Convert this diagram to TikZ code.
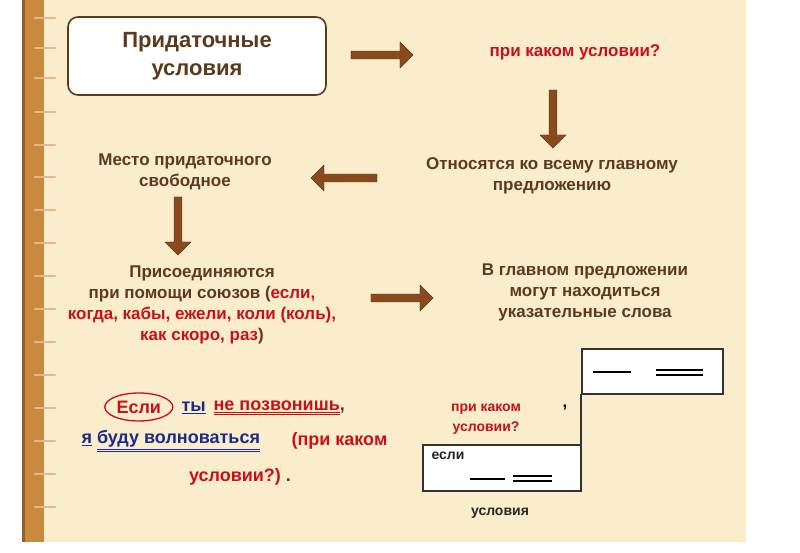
\documentclass[tikz,border=0pt]{standalone}
\usepackage{fontspec}
\setmainfont{Liberation Sans}
\usetikzlibrary{shapes.arrows}
\definecolor{page}{HTML}{FAEDCB}
\definecolor{bind}{HTML}{C98A3E}
\definecolor{brn}{HTML}{5C3A1C}
\definecolor{arr}{HTML}{8B4A1E}
\definecolor{rd}{HTML}{C8101A}
\definecolor{bl}{HTML}{1C2A8C}
\begin{document}
\begin{tikzpicture}[x=1pt,y=-1pt,
  t/.style={font=\bfseries\fontsize{17}{21}\selectfont, text=brn, align=center},
  red/.style={t, text=rd},
  blk/.style={single arrow, draw=arr!60!black, fill=arr, minimum height=#1, minimum width=26, single arrow head extend=5, inner sep=2},
  blk/.default=55]
\useasboundingbox (0,0) rectangle (800,553);
\fill[white] (0,0) rectangle (800,553);
\fill[page] (40,0) rectangle (746,542);
\fill[bind] (22,0) rectangle (44,542);
\fill[bind!70!black] (22,0) rectangle (25,542);
\foreach \y in {18,48,78,112,145,177,210,243,276,309,342,375,408,441,474,507}
  \draw[line width=2.5, color=bind!60!white, line cap=round] (35,\y) -- (55,\y);
\node[draw=brn, line width=1.6, rounded corners=10, fill=white, minimum width=258, minimum height=78, font=\bfseries\fontsize{22}{28}\selectfont, text=brn, align=center] (box) at (197,56) {Придаточные\\условия};
\node[red] (q) at (575,52) {при каком условии?};
\node[blk=62, rotate=0] (a1) at (380,55) {};
\node[blk=58, rotate=-90] (a2) at (553,117) {};
\node[t] (otn) at (552,176) {Относятся ко всему главному\\предложению};
\node[blk=66, rotate=180] (a3) at (346,178) {};
\node[t] (mesto) at (185,172) {Место придаточного\\свободное};
\node[blk=58, rotate=-90] (a4) at (178,224) {};
\node[t] (pris) at (202,305) {Присоединяются\\при помощи союзов ({\color{rd}если,}\\{\color{rd}когда, кабы, ежели, коли (коль),}\\{\color{rd}как скоро, раз})};
\node[blk=62] (a5) at (400,298) {};
\node[t] (vgl) at (585,292) {В главном предложении\\могут находиться\\указательные слова};
% example sentence
\node[red, anchor=west, font=\bfseries\fontsize{18}{22}\selectfont] (esli) at (113,407) {Если};
\draw[rd, line width=1.3] (esli.center) ellipse (34 and 14);
\node[t, text=bl, anchor=west, font=\bfseries\fontsize{18}{22}\selectfont] (ty) at (178,408) {\underline{ты}};
\node[t, text=rd, anchor=west, font=\bfseries\fontsize{18}{22}\selectfont] (ne) at (210,408) {\underline{\underline{не позвонишь}}\textcolor{brn}{,}};
\node[t, text=bl, anchor=west, font=\bfseries\fontsize{18}{22}\selectfont] (ya) at (78,441) {\underline{я} \underline{\underline{буду волноваться}}};
\node[red, anchor=west, font=\bfseries\fontsize{18}{22}\selectfont] (pk) at (288,441) {(при каком};
\node[red, font=\bfseries\fontsize{18}{22}\selectfont] (us) at (240,477) {условии?)\textcolor{brn}{\ .}};
% scheme
\draw[line width=2, draw=black!80, fill=white] (582,349) rectangle (723,394);
\draw[line width=2, draw=black!80, fill=white] (423,445) rectangle (581,491);
\draw[line width=2, draw=black!80] (581,394) -- (581,445);
\draw[line width=2] (593,372) -- (631,372);
\draw[line width=1.5] (656,370) -- (703,370) (656,375) -- (703,375);
\draw[line width=2] (470,479) -- (505,479);
\draw[line width=1.5] (513,476) -- (552,476) (513,481) -- (552,481);
\node[t, font=\bfseries\fontsize{14}{16}\selectfont, text=black!85, anchor=west] (es) at (428,456) {если};
\node[t, text=rd, font=\bfseries\fontsize{14}{20}\selectfont] (pk2) at (486,419) {при каком\\условии?};
\node[t, text=black] (cm) at (565,408) {,};
\node[t, font=\bfseries\fontsize{14}{16}\selectfont, text=black!85] (usl) at (500,513) {условия};
\end{tikzpicture}
\end{document}
